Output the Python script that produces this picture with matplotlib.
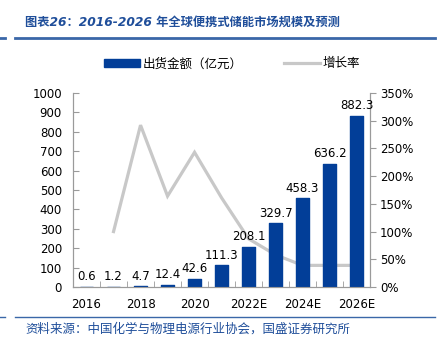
import matplotlib
matplotlib.use("Agg")
import matplotlib.pyplot as plt
from matplotlib.lines import Line2D
from matplotlib.patches import Patch

plt.rcParams['font.family'] = ['DejaVu Sans', 'Noto Sans CJK SC']
plt.rcParams['axes.unicode_minus'] = False

years = ['2016', '2017', '2018', '2019', '2020', '2021E', '2022E',
         '2023E', '2024E', '2025E', '2026E']
shipment = [0.6, 1.2, 4.7, 12.4, 42.6, 111.3, 208.1, 329.7, 458.3, 636.2, 882.3]
growth = [None, 100, 292, 164, 243, 161, 87, 58, 39, 39, 39]   # %
left_ticks = list(range(0, 1001, 100))
right_ticks = list(range(0, 351, 50))

BLUE = '#023E98'
GREY = '#C8C8C8'
TXT_BLUE = '#1F4E9A'
AX_GREY = '#9A9A9A'

fig = plt.figure(figsize=(4.4, 3.44), dpi=100)
ax = fig.add_axes([0.166, 0.1657, 0.675, 0.564])
ax2 = ax.twinx()

x = list(range(len(years)))
ax.bar(x, shipment, width=0.5, color=BLUE, edgecolor=BLUE, linewidth=1,
       joinstyle='round', zorder=2)
for xi, v in zip(x, shipment):
    ax.text(xi, v + 18, f'{v:.1f}', ha='center', va='bottom', fontsize=8.5)

gx = [xi for xi, g in zip(x, growth) if g is not None]
gy = [g for g in growth if g is not None]
ax2.plot(gx, gy, color=GREY, lw=2.3, solid_joinstyle='miter', zorder=1)
ax.set_zorder(ax2.get_zorder() + 1)
ax.patch.set_visible(False)

ax.set_xlim(-0.5, len(years) - 0.5)
ax.set_ylim(0, 1000)
ax2.set_ylim(0, 350)
ax.set_yticks(left_ticks)
ax.set_yticklabels([str(t) for t in left_ticks], fontsize=8.5)
ax2.set_yticks(right_ticks)
ax2.set_yticklabels([f'{t}%' for t in right_ticks], fontsize=8.5)

ax.set_xticks(x)
ax.set_xticklabels([y if i % 2 == 0 else '' for i, y in enumerate(years)], fontsize=8.5)
ax.tick_params(axis='x', length=0, pad=8)
# category separators under the baseline
ax.set_xticks([xi + 0.5 for xi in x[:-1]], minor=True)
ax.tick_params(axis='x', which='minor', length=4, color=AX_GREY, direction='in')

for a in (ax, ax2):
    for s in a.spines.values():
        s.set_color(AX_GREY)
    a.spines['top'].set_visible(False)
ax.tick_params(axis='y', length=4, color=AX_GREY, direction='in', pad=8)
ax2.tick_params(axis='y', length=4, color=AX_GREY, direction='out', pad=3)

handles = [Patch(facecolor=BLUE, edgecolor=BLUE), Line2D([0], [0], color=GREY, lw=2.3)]
fig.legend(handles, ['出货金额（亿元）', '增长率'], loc='center', ncol=2,
           bbox_to_anchor=(0.527, 0.814), frameon=False, fontsize=9,
           handlelength=2.9, handleheight=0.7, columnspacing=3.3, handletextpad=0.2)

# header / footer
fig.text(0.057, 0.935, '图表26：2016-2026 年全球便携式储能市场规模及预测', color=TXT_BLUE,
         fontsize=8.8, fontweight='bold', style='italic', va='center')
fig.add_artist(Line2D([15 / 440, 435 / 440], [1 - 38 / 344] * 2, color='#3A67A8', lw=2))
fig.add_artist(Line2D([0, 5 / 440], [1 - 38 / 344] * 2, color='#3A67A8', lw=2))
fig.add_artist(Line2D([15 / 440, 435 / 440], [1 - 317 / 344] * 2, color='#3A67A8', lw=1))
fig.add_artist(Line2D([0, 5 / 440], [1 - 317 / 344] * 2, color='#3A67A8', lw=1))
fig.text(0.057, 1 - 329 / 344, '资料来源：中国化学与物理电源行业协会，国盛证券研究所',
         color=TXT_BLUE, fontsize=9, style='italic', va='center')

fig.savefig('out.png', dpi=100)
